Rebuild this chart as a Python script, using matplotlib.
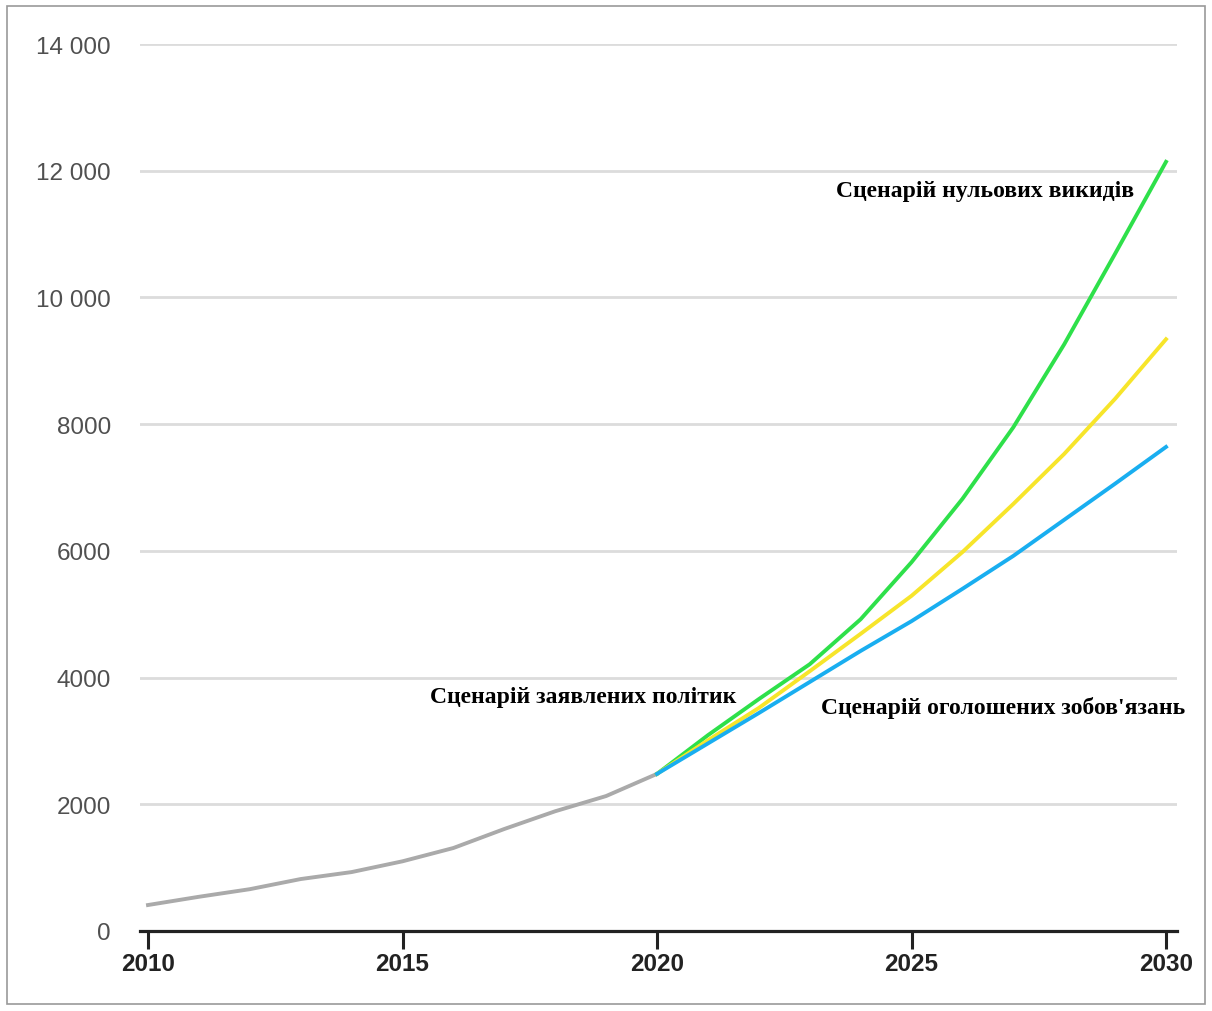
import matplotlib.pyplot as plt
from matplotlib.patches import Rectangle

# Історичні дані
hist_years = [2010, 2011, 2012, 2013, 2014, 2015, 2016, 2017, 2018, 2019, 2020]
hist_values = [410, 540, 660, 820, 930, 1100, 1310, 1610, 1890, 2130, 2480]

# Сценарії 2020-2030
scen_years = [2020, 2021, 2022, 2023, 2024, 2025, 2026, 2027, 2028, 2029, 2030]
nze_values = [2480, 3090, 3660, 4210, 4920, 5820, 6820, 7950, 9260, 10690, 12140]
steps_values = [2480, 3010, 3520, 4100, 4690, 5290, 5980, 6740, 7530, 8400, 9340]
aps_values = [2480, 2960, 3440, 3930, 4420, 4890, 5400, 5920, 6490, 7060, 7640]

y_ticks = [0, 2000, 4000, 6000, 8000, 10000, 12000, 14000]
y_labels = ['0', '2000', '4000', '6000', '8000', '10 000', '12 000', '14 000']
x_ticks = [2010, 2015, 2020, 2025, 2030]

fig = plt.figure(figsize=(12.12, 10.12), dpi=100)
ax = fig.add_axes([140 / 1212, 80 / 1012, (1177 - 140) / 1212, (932 - 45) / 1012])

# рамка навколо рисунка
fig.patches.append(Rectangle((7 / 1212, 7 / 1012), 1198 / 1212, 998 / 1012,
                             transform=fig.transFigure, fill=False,
                             edgecolor='#999999', linewidth=1.2))

for yv in y_ticks[1:]:
    ax.axhline(yv, color='#dcdcdc', linewidth=2, zorder=0)

ax.plot(hist_years, hist_values, color='#aaaaaa', linewidth=2.8, zorder=2)
ax.plot(scen_years, nze_values, color='#2ee04a', linewidth=2.8, zorder=3)
ax.plot(scen_years, steps_values, color='#f7e52a', linewidth=2.8, zorder=4)
ax.plot(scen_years, aps_values, color='#19aef0', linewidth=2.8, zorder=5)

ax.set_xlim(2010 - 8 / 50.9, 2030 + 11 / 50.9)
ax.set_ylim(0, 14000)

for side in ['top', 'right', 'left']:
    ax.spines[side].set_visible(False)
ax.spines['bottom'].set_linewidth(2.3)
ax.spines['bottom'].set_color('#222222')

ax.set_xticks(x_ticks)
ax.set_xticklabels([str(x) for x in x_ticks], fontfamily='Liberation Sans',
                   fontweight='bold', fontsize=17.5, color='#222222')
ax.tick_params(axis='x', length=13, width=2.2, color='#222222', pad=2)

ax.set_yticks(y_ticks)
ax.set_yticklabels(y_labels, fontfamily='Liberation Sans', fontsize=17.5, color='#505050')
ax.tick_params(axis='y', length=0, pad=21)

lab = dict(fontfamily='Liberation Serif', fontweight='bold', fontsize=17,
           color='black', ha='center', va='center')
ax.text(2026.45, 11690, 'Сценарій нульових викидів', **lab)
ax.text(2018.55, 3700, 'Сценарій заявлених політик', **lab)
ax.text(2026.8, 3530, "Сценарій оголошених зобов'язань", **lab)

fig.savefig('out.png', dpi=100)
